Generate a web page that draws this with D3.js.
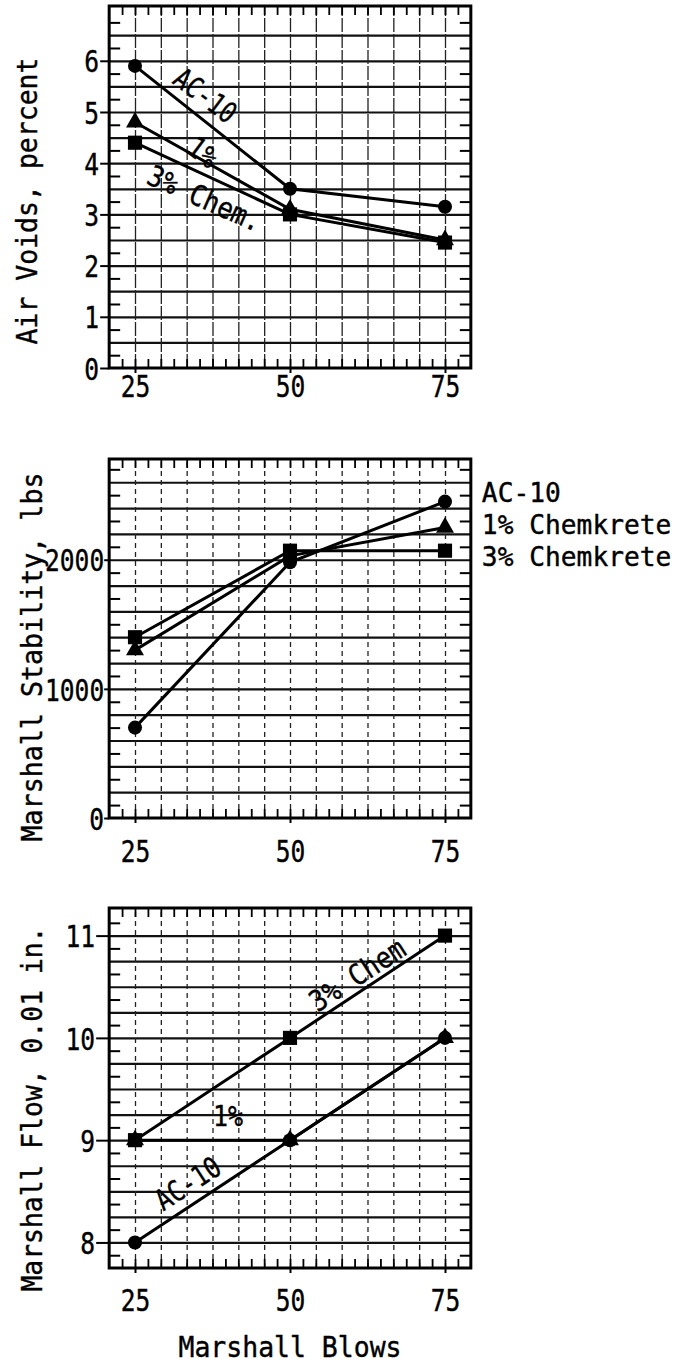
<!DOCTYPE html>
<html><head><meta charset="utf-8">
<script src="https://cdn.jsdelivr.net/npm/d3@7"></script>
<style>
body{margin:0;background:#fff}
svg{display:block}
text{font-family:"DejaVu Sans Mono",monospace;fill:#000;stroke:#000;stroke-width:0.4px}
</style>
</head><body>
<svg id="c" width="678" height="1364"></svg>
<script>
// ---------------- data ----------------
const blows = [25, 50, 75];
const xTickValues = [25, 50, 75];
const seriesNames = ["AC-10", "1% Chemkrete", "3% Chemkrete"];

const airVoidsAC10 = [5.9, 3.5, 3.15];
const airVoids1 = [4.8, 3.1, 2.5];
const airVoids3 = [4.4, 3.0, 2.45];

const stabilityAC10 = [700, 1980, 2450];
const stability1 = [1300, 2030, 2250];
const stability3 = [1400, 2070, 2070];

const flowAC10 = [8, 9, 10];
const flow1 = [9, 9, 10];
const flow3 = [9, 10, 11];

const airTicks = [0, 1, 2, 3, 4, 5, 6];
const stabTicks = [0, 1000, 2000];
const flowTicks = [8, 9, 10, 11];

const airTitle = "Air Voids, percent";
const stabTitle = "Marshall Stability, lbs";
const flowTitle = "Marshall Flow, 0.01 in.";
const xTitle = "Marshall Blows";

// ---------------- layout ----------------
const svg = d3.select("#c");
const x = d3.scaleLinear().domain([25, 75]).range([135, 445]);
const xStep = 25 / 6;
const xLo = 25 - xStep, xHi = 75 + xStep;
const X0 = x(xLo), X1 = x(xHi);
const vGrid = d3.range(0, 15).map(k => xLo + k * xStep);
const xMids = d3.range(0, 28).map(k => xLo + (k + 1) * xStep / 2).filter(v => v < xHi - 0.1);

const symbols = [d3.symbolCircle, d3.symbolTriangle, d3.symbolSquare];
const symSizes = [155, 140, 200];

function fit(sel, perChar, fs) {
  sel.attr("font-size", fs)
     .attr("lengthAdjust", "spacingAndGlyphs")
     .attr("textLength", function(){ return this.textContent.length * perChar; });
}

const panels = [
  { yDomain: [0, 7.07], yRange: [368, 6], step: 0.5, ticks: airTicks,
    data: [airVoidsAC10, airVoids1, airVoids3], title: airTitle, titleX: 37, titleY: 201, titleLen: 287,
    yTickSize: 9, yPad: 1, xLabelBase: 397, vDash: "14,2",
    notes: [
      { t: "AC-10", vx: 36.4, vy: 5.33, a: 37, len: 70 },
      { t: "1%", vx: 36.0, vy: 4.22, a: 37, len: 30 },
      { t: "3% Chem.", vx: 36.3, vy: 3.32, a: 24, len: 122 }
    ] },
  { yDomain: [0, 2780], yRange: [818, 459], step: 200, ticks: stabTicks,
    data: [stabilityAC10, stability1, stability3], title: stabTitle, titleX: 42, titleY: 657, titleLen: 369,
    yTickSize: 5, yPad: 0, xLabelBase: 862, vDash: "5,4", notes: [], legend: true },
  { yDomain: [7.75, 11.27], yRange: [1268, 908], step: 0.25, ticks: flowTicks,
    data: [flowAC10, flow1, flow3], title: flowTitle, titleX: 42, titleY: 1109, titleLen: 365,
    yTickSize: 13, yPad: 1, xLabelBase: 1311, vDash: "5,4",
    notes: [
      { t: "3% Chem", vx: 60.8, vy: 10.62, a: -33, len: 108 },
      { t: "1%", vx: 40.0, vy: 9.24, a: 0, len: 30 },
      { t: "AC-10", vx: 33.5, vy: 8.58, a: -33, len: 72 }
    ] }
];

panels.forEach(p => {
  const y = d3.scaleLinear().domain(p.yDomain).range(p.yRange);
  const Y0 = p.yRange[0], Y1 = p.yRange[1];
  const g = svg.append("g");

  // horizontal grid
  const hGrid = d3.range(p.yDomain[0], p.yDomain[1], p.step)
    .map(v => +v.toFixed(4))
    .filter(v => Math.abs(y(v) - Y0) > 4 && Math.abs(y(v) - Y1) > 4);
  g.append("g").attr("transform", `translate(${X0},0)`)
    .call(d3.axisLeft(y).tickValues(hGrid).tickSize(-(X1 - X0)).tickFormat(""))
    .call(s => s.select(".domain").remove())
    .selectAll("line").attr("stroke", "#111").attr("stroke-width", 2.2);

  // vertical grid (dashed)
  g.append("g").attr("transform", `translate(0,${Y0})`)
    .call(d3.axisBottom(x).tickValues(vGrid.slice(1, -1)).tickSize(-(Y0 - Y1)).tickFormat(""))
    .call(s => s.select(".domain").remove())
    .selectAll("line").attr("stroke", "#222").attr("stroke-width", 1.3).attr("stroke-dasharray", p.vDash);

  // border minor ticks
  const yMids = d3.range(p.yDomain[0] + p.step / 2, p.yDomain[1], p.step)
    .filter(v => Math.abs(y(v) - Y1) > 3 && Math.abs(y(v) - Y0) > 3);
  g.append("g").attr("transform", `translate(${X0},0)`)
    .call(d3.axisLeft(y).tickValues(yMids).tickSize(-11).tickFormat(""))
    .call(s => s.select(".domain").remove())
    .selectAll("line").attr("stroke", "#000").attr("stroke-width", 2);
  g.append("g").attr("transform", `translate(${X1},0)`)
    .call(d3.axisRight(y).tickValues(yMids).tickSize(-11).tickFormat(""))
    .call(s => s.select(".domain").remove())
    .selectAll("line").attr("stroke", "#000").attr("stroke-width", 2);
  g.append("g").attr("transform", `translate(0,${Y1})`)
    .call(d3.axisTop(x).tickValues(xMids).tickSize(-9).tickFormat(""))
    .call(s => s.select(".domain").remove())
    .selectAll("line").attr("stroke", "#000").attr("stroke-width", 1.8);
  g.append("g").attr("transform", `translate(0,${Y0})`)
    .call(d3.axisBottom(x).tickValues(xMids).tickSize(-9).tickFormat(""))
    .call(s => s.select(".domain").remove())
    .selectAll("line").attr("stroke", "#000").attr("stroke-width", 1.8);

  // frame
  g.append("rect").attr("x", X0).attr("y", Y1).attr("width", X1 - X0).attr("height", Y0 - Y1)
    .attr("fill", "none").attr("stroke", "#000").attr("stroke-width", 3);

  // y axis labels
  const ya = g.append("g").attr("transform", `translate(${X0},0)`)
    .call(d3.axisLeft(y).tickValues(p.ticks).tickSize(p.yTickSize).tickPadding(p.yPad).tickFormat(d3.format("d")));
  ya.select(".domain").remove();
  ya.selectAll("line").attr("stroke", "#000").attr("stroke-width", 2);
  ya.selectAll("text").attr("dy", "0.36em").attr("font-family", "DejaVu Sans Mono").call(fit, 14.8, 31);

  // x axis labels
  const xa = g.append("g").attr("transform", `translate(0,${Y0})`)
    .call(d3.axisBottom(x).tickValues(xTickValues).tickSize(5).tickFormat(d3.format("d")));
  xa.select(".domain").remove();
  xa.selectAll("line").attr("stroke", "#000").attr("stroke-width", 2);
  xa.selectAll("text").attr("y", p.xLabelBase - Y0).attr("dy", 0).attr("font-family", "DejaVu Sans Mono").call(fit, 14.8, 31);

  // y title
  g.append("text").attr("transform", `translate(${p.titleX},${p.titleY}) rotate(-90)`)
    .attr("text-anchor", "middle").text(p.title)
    .attr("font-size", 29).attr("lengthAdjust", "spacingAndGlyphs").attr("textLength", p.titleLen);

  // lines
  const line = d3.line().x((d, i) => x(blows[i])).y(d => y(d));
  p.data.forEach(arr => {
    g.append("path").datum(arr).attr("d", line)
      .attr("fill", "none").attr("stroke", "#000").attr("stroke-width", 3);
  });
  // markers
  p.data.forEach((arr, si) => {
    g.selectAll(null).data(arr).enter().append("path")
      .attr("transform", (d, i) => `translate(${x(blows[i])},${y(d)})`)
      .attr("d", d3.symbol().type(symbols[si]).size(symSizes[si]))
      .attr("fill", "#000");
  });

  // annotations
  p.notes.forEach(n => {
    g.append("text").attr("transform", `translate(${x(n.vx)},${y(n.vy)}) rotate(${n.a})`)
      .attr("y", 0.365 * 29).attr("text-anchor", "middle").attr("font-size", 29)
      .attr("lengthAdjust", "spacingAndGlyphs").attr("textLength", n.len).text(n.t);
  });

  if (p.legend) {
    seriesNames.forEach((s, i) => {
      g.append("text").attr("x", X1 + 11).attr("y", Y1 + 43 + i * 32)
        .attr("font-size", 27).attr("lengthAdjust", "spacingAndGlyphs")
        .attr("textLength", s.length * 15.8).text(s);
    });
  }
});

svg.append("text").attr("x", 290).attr("y", 1357).attr("text-anchor", "middle")
  .attr("font-size", 28).attr("lengthAdjust", "spacingAndGlyphs").attr("textLength", 223).text(xTitle);
</script>
</body></html>
